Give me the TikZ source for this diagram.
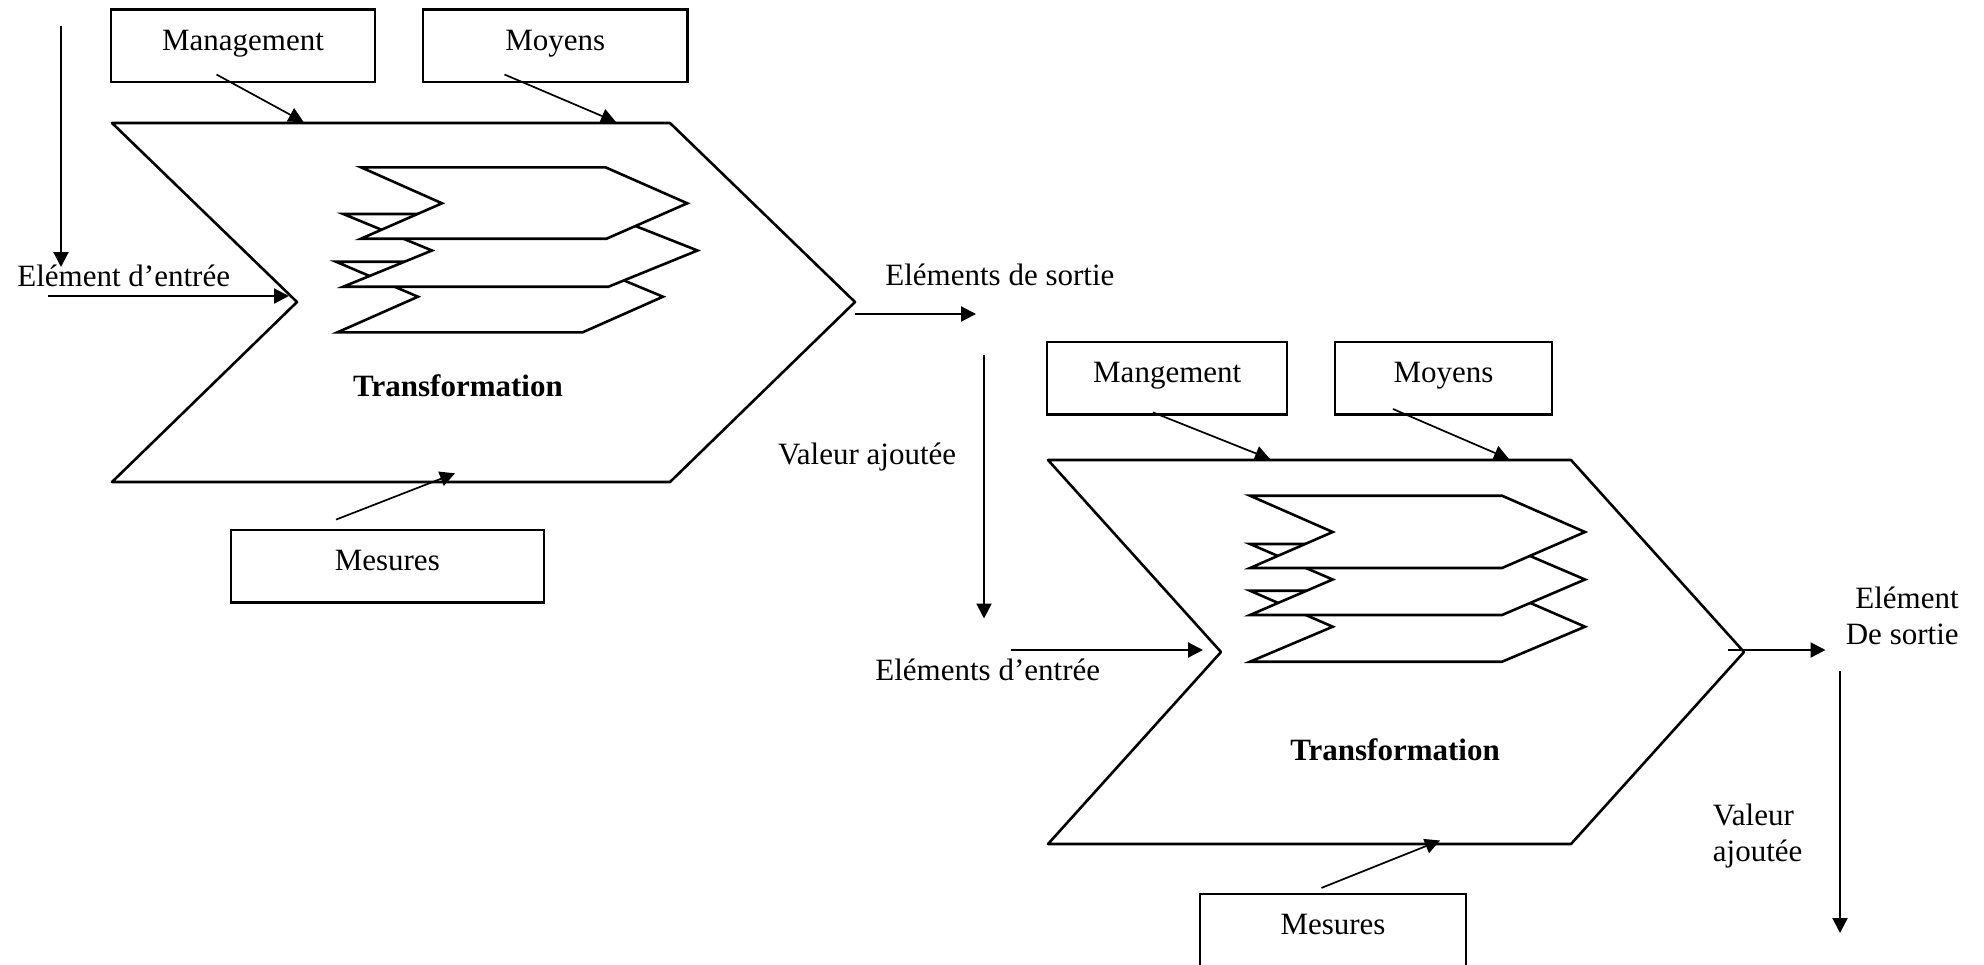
\documentclass[tikz,border=0pt]{standalone}
\usepackage{fontspec}
\setmainfont{Liberation Serif}
\usetikzlibrary{arrows.meta}
\begin{document}
\begin{tikzpicture}[x=0.5pt,y=-0.5pt,
  font=\fontsize{15.5pt}{18pt}\selectfont,
  box/.style={draw,line width=1.2pt,inner sep=0pt,minimum height=36.2pt,
              text height=11pt,text depth=6.5pt},
  lbl/.style={inner sep=0pt},
  arr/.style={line width=1.1pt,-{Triangle[length=7.5pt,width=7.5pt]}},
  slant/.style={arr,line width=0.85pt},
  chev/.style={line width=1.3pt,line join=round},
  layer/.style={line width=1.3pt,fill=white}]
\useasboundingbox (0,0) rectangle (1984,964);
\clip (0,0) rectangle (1984,964);

% ---------- first process ----------
\draw[chev] (112,123) -- (670,123) -- (855,302) -- (670,482) -- (112,482) -- (297,302) -- cycle;
% stacked layers (back to front)
\draw[layer] (336,261.7) -- (579,261.7) -- (663,296.7) -- (582.7,332.3) -- (337.5,332.3) -- (418,296.7) -- cycle;
\draw[layer] (343.3,214) -- (605,214) -- (697.5,250.5) -- (608.5,286.7) -- (343.3,286.7) -- (432,250.5) -- cycle;
\draw[layer] (361,167.3) -- (605.5,167.3) -- (687.3,203.3) -- (606.5,238.7) -- (361,238.7) -- (442,203.3) -- cycle;
\node[lbl,font=\fontsize{15.5pt}{18pt}\selectfont\bfseries,anchor=base] (tr1) at (458,396) {Transformation};

\node[box,minimum width=132pt] (mg1) at (243,45.5) {Management};
\node[box,minimum width=132.2pt] (my1) at (555.2,45.5) {Moyens};
\node[box,minimum width=156.6pt] (ms1) at (387.3,566.3) {Mesures};

\coordinate (c1top1) at (303.6,122);
\coordinate (c1top2) at (616,122);
\coordinate (c1bot) at (455,473.3);
\coordinate (c1in) at (289,296);
\coordinate (c1out) at (855,314);
\draw[slant] ([xshift=-13.25pt,yshift=4.2pt]mg1.south) -- (c1top1);
\draw[slant] ([xshift=-25.35pt,yshift=4.2pt]my1.south) -- (c1top2);
\draw[slant] ([xshift=-25.65pt,yshift=4.65pt]ms1.north) -- (c1bot);

\node[lbl,anchor=base west] (ent1) at (17,286) {Elément d’entrée};
\coordinate (v1a) at (61,26);
\coordinate (v1b) at (61,267);
\draw[arr] (v1a) -- (v1b);
\coordinate (in1a) at (48,296);
\draw[arr] (in1a) -- (c1in);

\node[lbl,anchor=base west] (sor1) at (885,285) {Eléments de sortie};
\coordinate (out1b) at (976,314);
\draw[arr] (c1out) -- (out1b);

\node[lbl,anchor=base west] (va1) at (777.6,464.3) {Valeur ajoutée};
\coordinate (v2a) at (984,355);
\coordinate (v2b) at (984,618.5);
\draw[arr] (v2a) -- (v2b);

% ---------- second process ----------
\draw[chev] (1048,460) -- (1571,460) -- (1744,652) -- (1571,844) -- (1048,844) -- (1221,652) -- cycle;
\draw[layer] (1250,590.7) -- (1502,590.7) -- (1585,626.7) -- (1502,661.7) -- (1250,661.7) -- (1332.7,626.7) -- cycle;
\draw[layer] (1250,544) -- (1502,544) -- (1585,579.5) -- (1502,615) -- (1250,615) -- (1332.7,579.5) -- cycle;
\draw[layer] (1250,495.7) -- (1502,495.7) -- (1585,532) -- (1502,568) -- (1250,568) -- (1332.7,532) -- cycle;
\node[lbl,font=\fontsize{15.5pt}{18pt}\selectfont\bfseries,anchor=base] (tr2) at (1395,760) {Transformation};

\node[box,minimum width=120pt] (mg2) at (1167.2,378.3) {Mangement};
\node[box,minimum width=108.5pt] (my2) at (1443.5,378.3) {Moyens};
\node[box,minimum width=133pt] (ms2) at (1333,930) {Mesures};

\coordinate (c2top1) at (1270,459);
\coordinate (c2top2) at (1509,459);
\coordinate (c2bot) at (1440,840.5);
\coordinate (c2in) at (1203,650);
\coordinate (c2out) at (1728,650);
\draw[slant] ([xshift=-7.1pt,yshift=1.65pt]mg2.south) -- (c2top1);
\draw[slant] ([xshift=-25.25pt,yshift=3.35pt]my2.south) -- (c2top2);
\draw[slant] ([xshift=-5.8pt,yshift=2.35pt]ms2.north) -- (c2bot);

\node[lbl,anchor=base west] (ent2) at (875,680) {Eléments d’entrée};
\coordinate (in2a) at (1011,650);
\draw[arr] (in2a) -- (c2in);

\node[lbl,align=right,anchor=east] (sor2) at (1959,616.3) {Elément\\De sortie};
\coordinate (out2b) at (1825.5,650);
\draw[arr] (c2out) -- (out2b);

\node[lbl,align=left,anchor=west] (va2) at (1712.5,836.5) {Valeur\\ajoutée};
\coordinate (v3a) at (1840,671);
\coordinate (v3b) at (1840,933);
\draw[arr] (v3a) -- (v3b);
\end{tikzpicture}
\end{document}
